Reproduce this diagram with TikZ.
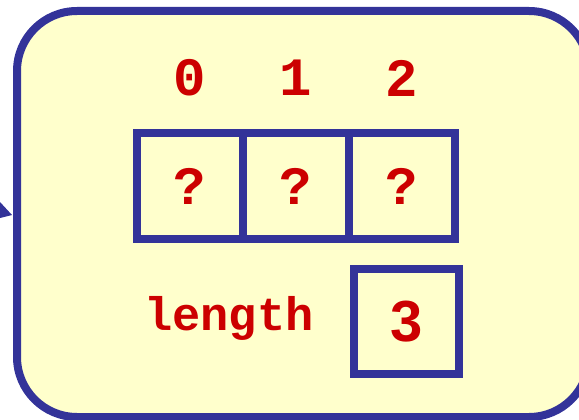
\documentclass[tikz,border=0pt]{standalone}
\usepackage{fontspec}
\setmonofont{Liberation Mono}
\setsansfont{Liberation Sans}
\usetikzlibrary{positioning}
\definecolor{boxblue}{RGB}{51,51,153}
\definecolor{paleyellow}{RGB}{255,255,204}
\definecolor{darkred}{RGB}{204,0,0}

\begin{document}
\begin{tikzpicture}[x=1pt,y=-1pt,
    cell/.style={draw=boxblue, line width=8pt, minimum size=106pt, inner sep=0pt, outer sep=0pt,
      text=darkred, font=\fontsize{54}{54}\selectfont\ttfamily\bfseries},
    index/.style={text=darkred, inner sep=0pt, font=\fontsize{54}{54}\selectfont\ttfamily\bfseries}]
    \useasboundingbox (0,0) rectangle (579,420);
    \clip (0,0) rectangle (579,420);
    % Background panel
    \draw[fill=paleyellow, draw=boxblue, line width=8pt, rounded corners=60pt]
      (17,11) rectangle (589,417);
    % Arrow tip on the left
    \fill[boxblue] (0,202) -- (12,215) -- (0,218) -- cycle;
    % Array cells
    \node[cell] (c0) at (190,186) {?};
    \node[cell, right=0pt of c0] (c1) {?};
    \node[cell, right=0pt of c1] (c2) {?};
    % Index labels
    \node[index] (i0) at (190,78) {0};
    \node[index] (i1) at (296,78) {1};
    \node[index] (i2) at (402,78) {2};
    % Length field
    \node[cell, minimum size=105pt, font=\fontsize{58}{58}\selectfont\sffamily\bfseries] (len) at (406.5,321.5) {3};
    \node[anchor=base, text=darkred, inner sep=0pt,
      font=\fontsize{47}{47}\selectfont\ttfamily\bfseries] (lenlabel) at (229,330) {length};
\end{tikzpicture}
\end{document}
